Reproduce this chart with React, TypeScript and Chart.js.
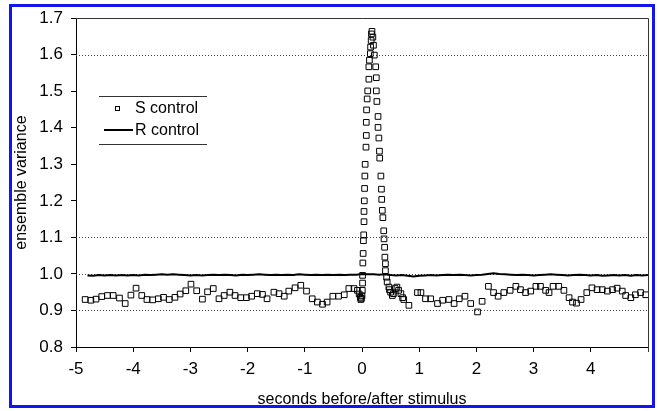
import React, { useEffect, useRef } from 'react';
import { Chart, registerables } from 'chart.js';

Chart.register(...registerables);

// S control (hollow squares): time in seconds, ensemble variance
const sTimes = [
  -4.84, -4.74, -4.65, -4.55, -4.45, -4.35, -4.24, -4.14, -4.04, -3.95,
  -3.85, -3.76, -3.66, -3.56, -3.47, -3.37, -3.27, -3.18, -3.08, -2.99,
  -2.89, -2.79, -2.70, -2.60, -2.50, -2.41, -2.31, -2.22, -2.12, -2.02,
  -1.93, -1.83, -1.74, -1.66, -1.54, -1.45, -1.36, -1.28, -1.17, -1.07,
  -0.97, -0.87, -0.78, -0.69, -0.61, -0.51, -0.41, -0.31, -0.23, -0.14,
  -0.08, -0.05, -0.03, -0.02, -0.01, 0.0, 0.005, 0.01, 0.01,
  0.015, 0.02, 0.025, 0.03, 0.035, 0.035, 0.04, 0.045, 0.05, 0.055,
  0.07, 0.075, 0.075, 0.08, 0.09, 0.10, 0.12, 0.12, 0.13, 0.145,
  0.15, 0.16, 0.165, 0.175,
  0.19, 0.20, 0.215, 0.24, 0.25, 0.25, 0.26, 0.28, 0.28, 0.295,
  0.305, 0.31, 0.33, 0.34, 0.345, 0.355, 0.365, 0.38, 0.385, 0.395,
  0.40, 0.41, 0.41, 0.43, 0.44, 0.47, 0.48, 0.50, 0.53, 0.55,
  0.58, 0.61, 0.64, 0.68, 0.71, 0.73, 0.82, 0.97, 1.03, 1.11,
  1.20, 1.32, 1.41, 1.52, 1.61, 1.70, 1.80, 1.90, 2.02, 2.10,
  2.21, 2.30, 2.38, 2.48, 2.59, 2.69, 2.77, 2.86, 2.95, 3.04,
  3.12, 3.21, 3.27, 3.34, 3.44, 3.53, 3.62, 3.68, 3.75, 3.83,
  3.93, 4.02, 4.11, 4.20, 4.29, 4.38, 4.46, 4.55, 4.61, 4.70,
  4.78, 4.87, 4.96,
];
const sValues = [
  0.930, 0.928, 0.931, 0.938, 0.941, 0.941, 0.934, 0.919, 0.942, 0.961,
  0.941, 0.930, 0.929, 0.932, 0.936, 0.930, 0.936, 0.945, 0.954, 0.972,
  0.954, 0.931, 0.951, 0.960, 0.932, 0.941, 0.950, 0.941, 0.935, 0.935,
  0.939, 0.946, 0.944, 0.932, 0.950, 0.946, 0.939, 0.953, 0.962, 0.969,
  0.953, 0.932, 0.923, 0.917, 0.923, 0.939, 0.939, 0.943, 0.960, 0.960,
  0.955, 0.945, 0.936, 0.930, 0.933, 0.940, 0.955, 0.975, 0.996,
  1.030, 1.056, 1.091, 1.107, 1.143, 1.171, 1.200, 1.234, 1.268, 1.300,
  1.347, 1.379, 1.415, 1.449, 1.479, 1.501, 1.533, 1.567, 1.585, 1.603,
  1.621, 1.639, 1.657, 1.664,
  1.648, 1.626, 1.599, 1.567, 1.537, 1.501, 1.472, 1.431, 1.401, 1.372,
  1.336, 1.317, 1.268, 1.232, 1.204, 1.174, 1.154, 1.118, 1.096, 1.073,
  1.046, 1.028, 1.009, 0.991, 0.978, 0.964, 0.957, 0.950, 0.941, 0.946,
  0.960, 0.964, 0.955, 0.946, 0.935, 0.930, 0.914, 0.949, 0.949, 0.932,
  0.932, 0.919, 0.928, 0.930, 0.919, 0.932, 0.939, 0.919, 0.896, 0.925,
  0.966, 0.949, 0.939, 0.949, 0.955, 0.966, 0.957, 0.949, 0.953, 0.966,
  0.966, 0.955, 0.949, 0.966, 0.966, 0.955, 0.935, 0.923, 0.920, 0.930,
  0.949, 0.962, 0.957, 0.957, 0.953, 0.957, 0.961, 0.953, 0.941, 0.935,
  0.943, 0.949, 0.943,
];

// R control (solid line)
const rTimes = [
  -4.8, -4.7, -4.6, -4.5, -4.4, -4.3, -4.2, -4.1, -4.0, -3.9,
  -3.8, -3.7, -3.6, -3.5, -3.4, -3.3, -3.2, -3.1, -3.0, -2.9,
  -2.8, -2.7, -2.6, -2.5, -2.4, -2.3, -2.2, -2.1, -2.0, -1.9,
  -1.8, -1.7, -1.6, -1.5, -1.4, -1.3, -1.2, -1.1, -1.0, -0.9,
  -0.8, -0.7, -0.6, -0.5, -0.4, -0.3, -0.2, -0.1, 0.0, 0.1,
  0.2, 0.3, 0.4, 0.5, 0.6, 0.7, 0.8, 0.9, 1.0, 1.1,
  1.2, 1.3, 1.4, 1.5, 1.6, 1.7, 1.8, 1.9, 2.0, 2.1,
  2.2, 2.3, 2.4, 2.5, 2.6, 2.7, 2.8, 2.9, 3.0, 3.1,
  3.2, 3.3, 3.4, 3.5, 3.6, 3.7, 3.8, 3.9, 4.0, 4.1,
  4.2, 4.3, 4.4, 4.5, 4.6, 4.7, 4.8, 4.9, 5.0,
];
const rValues = [
  0.996, 0.995, 0.997, 0.996, 0.997, 0.996, 0.997, 0.996, 0.997, 0.996,
  0.998, 0.997, 0.998, 0.999, 0.998, 0.999, 0.998, 0.997, 0.996, 0.997,
  0.996, 0.997, 0.998, 0.997, 0.998, 0.997, 0.996, 0.998, 0.997, 0.998,
  0.999, 0.998, 0.997, 0.998, 0.997, 0.998, 0.997, 0.999, 0.998, 0.997,
  0.998, 0.997, 0.998, 0.997, 0.998, 0.997, 0.998, 0.998, 1.000, 0.999,
  0.999, 0.998, 0.999, 0.997, 0.996, 0.997, 0.995, 0.993, 0.995, 0.996,
  0.997, 0.996, 0.997, 0.998, 0.997, 0.998, 0.997, 0.996, 0.997, 0.998,
  1.000, 1.002, 1.000, 0.999, 0.998, 0.997, 0.998, 0.997, 0.996, 0.997,
  0.998, 0.999, 0.998, 0.997, 0.996, 0.997, 0.998, 0.997, 0.996, 0.997,
  0.995, 0.996, 0.997, 0.996, 0.997, 0.995, 0.997, 0.996, 0.997,
];

const seriesNames = ['S control', 'R control'];
const gridValues = [0.9, 1.0, 1.1, 1.6];
const yMin = 0.8;
const yMax = 1.7;
const xMin = -5;
const xMax = 5;
const xTitle = 'seconds before/after stimulus';
const yTitle = 'ensemble variance';

const FONT = "'Liberation Sans', Arial, Helvetica, sans-serif";

const framePlugin = {
  id: 'frameAndGrid',
  beforeDatasetsDraw(chart: any) {
    const { ctx, chartArea } = chart;
    const ys = chart.scales.y;
    const xs = chart.scales.x;
    ctx.save();
    ctx.strokeStyle = '#444';
    ctx.lineWidth = 1;
    ctx.setLineDash([1, 2]);
    gridValues.forEach((v) => {
      const py = Math.round(ys.getPixelForValue(v)) + 0.5;
      ctx.beginPath();
      ctx.moveTo(chartArea.left, py);
      ctx.lineTo(chartArea.right, py);
      ctx.stroke();
    });
    ctx.setLineDash([]);
    ctx.strokeStyle = '#333';
    const top = Math.round(ys.getPixelForValue(yMax)) + 0.5;
    const right = Math.round(xs.getPixelForValue(xMax)) + 0.5;
    const bottom = ys.getPixelForValue(yMin);
    ctx.beginPath();
    ctx.moveTo(chartArea.left, top);
    ctx.lineTo(right, top);
    ctx.lineTo(right, bottom + 5);
    ctx.stroke();
    ctx.restore();
  },
};

const legendPlugin = {
  id: 'customLegend',
  afterDraw(chart: any) {
    const { ctx } = chart;
    ctx.save();
    ctx.strokeStyle = '#333';
    ctx.lineWidth = 1;
    ctx.beginPath();
    ctx.moveTo(99, 96.5);
    ctx.lineTo(207, 96.5);
    ctx.moveTo(99, 144.5);
    ctx.lineTo(207, 144.5);
    ctx.stroke();
    // S marker
    ctx.strokeStyle = '#000';
    ctx.strokeRect(115.5, 106.5, 4, 4);
    // R line sample
    ctx.lineWidth = 2;
    ctx.beginPath();
    ctx.moveTo(104, 130);
    ctx.lineTo(133, 130);
    ctx.stroke();
    ctx.fillStyle = '#000';
    ctx.font = `16px ${FONT}`;
    ctx.textBaseline = 'middle';
    ctx.textAlign = 'left';
    ctx.fillText(seriesNames[0], 135, 109);
    ctx.fillText(seriesNames[1], 135, 131);
    ctx.restore();
  },
};

export default function App() {
  const ref = useRef<HTMLCanvasElement | null>(null);

  useEffect(() => {
    if (!ref.current) return;
    const sData = sTimes.map((t, i) => ({ x: t, y: sValues[i] }));
    const rData = rTimes.map((t, i) => ({ x: t, y: rValues[i] }));
    const chart = new Chart(ref.current, {
      type: 'scatter',
      data: {
        datasets: [
          {
            label: seriesNames[1],
            data: rData,
            showLine: true,
            borderColor: '#000',
            borderWidth: 2,
            pointRadius: 0,
            tension: 0,
          },
          {
            label: seriesNames[0],
            data: sData,
            pointStyle: 'rect',
            pointRadius: 4,
            pointBorderWidth: 1,
            borderColor: '#000',
            backgroundColor: 'rgba(0,0,0,0)',
            showLine: false,
          },
        ],
      },
      plugins: [framePlugin, legendPlugin],
      options: {
        responsive: false,
        animation: false,
        devicePixelRatio: 1,
        layout: { padding: { left: 12, top: 16, right: 10, bottom: 2 } },
        plugins: {
          legend: { display: false },
          tooltip: { enabled: false },
          title: { display: false },
        },
        scales: {
          x: {
            type: 'linear',
            min: xMin,
            max: xMax,
            afterFit(scale: any) {
              scale.height = 62;
            },
            ticks: {
              stepSize: 1,
              color: '#000',
              padding: 7,
              maxRotation: 0,
              autoSkip: false,
              font: { family: FONT, size: 17 },
              callback: (v: any) => (Number(v) === xMax ? '' : String(v)),
            },
            grid: {
              drawOnChartArea: false,
              drawTicks: true,
              tickLength: 5,
              tickColor: '#000',
            },
            border: { display: true, color: '#000', width: 1 },
            title: {
              display: true,
              text: xTitle,
              color: '#000',
              padding: { top: 0, bottom: 0 },
              font: { family: FONT, size: 16 },
            },
          },
          y: {
            type: 'linear',
            min: yMin,
            max: yMax,
            afterFit(scale: any) {
              scale.width = 64;
            },
            ticks: {
              stepSize: 0.1,
              color: '#000',
              padding: 8,
              autoSkip: false,
              font: { family: FONT, size: 17 },
              callback: (v: any) => Number(v).toFixed(1),
            },
            grid: {
              drawOnChartArea: false,
              drawTicks: true,
              tickLength: 5,
              tickColor: '#000',
            },
            border: { display: true, color: '#000', width: 1 },
            title: {
              display: true,
              text: yTitle,
              color: '#000',
              padding: { top: 0, bottom: 0 },
              font: { family: FONT, size: 16 },
            },
          },
        },
      },
    } as any);
    return () => chart.destroy();
  }, []);

  return (
    <div
      style={{
        position: 'fixed',
        left: 0,
        top: 0,
        width: 658,
        height: 411,
        background: '#fff',
        overflow: 'hidden',
      }}
    >
      <canvas
        ref={ref}
        width={658}
        height={411}
        style={{ position: 'absolute', left: 0, top: 0, width: 658, height: 411 }}
      />
      <div
        style={{
          position: 'absolute',
          left: 9,
          top: 4,
          width: 646,
          height: 404,
          boxSizing: 'border-box',
          borderStyle: 'solid',
          borderColor: '#1414f0',
          borderWidth: '3px 3px 3px 3px',
          pointerEvents: 'none',
        }}
      />
    </div>
  );
}
